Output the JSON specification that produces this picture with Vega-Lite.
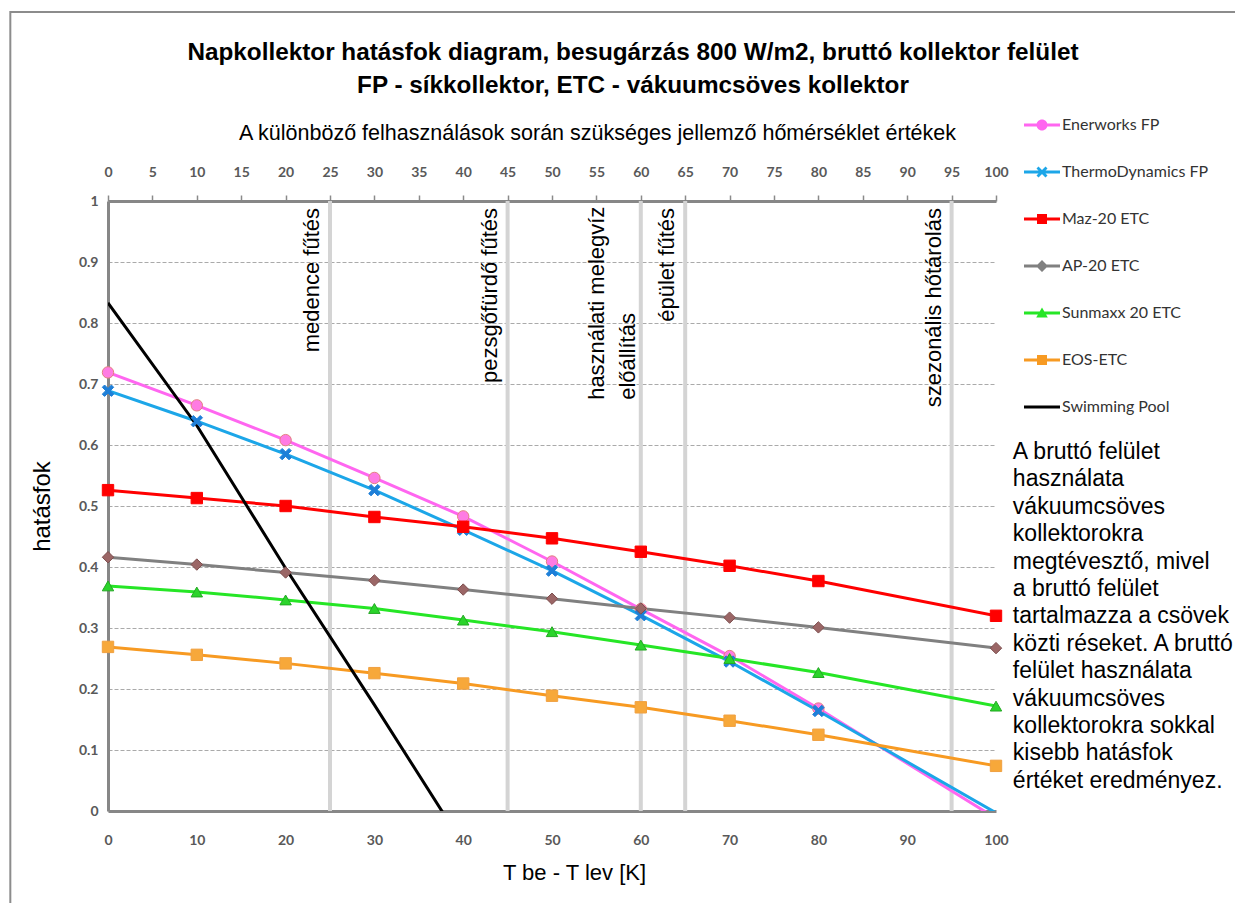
{
  "$schema": "https://vega.github.io/schema/vega-lite/v6.json",
  "width": 888,
  "height": 610,
  "autosize": {"type": "none"},
  "padding": {"left": 108, "top": 201, "right": 239, "bottom": 92},
  "background": "white",
  "title": {
    "text": ["Napkollektor hatásfok diagram, besugárzás 800 W/m2, bruttó kollektor felület", "FP - síkkollektor, ETC - vákuumcsöves kollektor"],
    "font": "Liberation Sans",
    "fontSize": 24.3,
    "fontWeight": "bold",
    "color": "#000000",
    "anchor": "middle",
    "frame": "group",
    "dx": 81,
    "dy": 97,
    "lineHeight": 33,
    "offset": 10
  },
  "config": {
    "view": {"stroke": null},
    "axis": {
      "domainColor": "#878787",
      "domainWidth": 3,
      "grid": false,
      "labelFont": "Lato",
      "labelFontWeight": "bold",
      "labelColor": "#595959",
      "labelFontSize": 13,
      "labelFlush": false,
      "labelOverlap": false,
      "labelBound": false,
      "titleFont": "Liberation Sans",
      "titleFontWeight": "normal",
      "titleFontSize": 18,
      "titleColor": "#000000"
    }
  },
  "data": {
    "values": [
      {"series": "Enerworks FP", "x": 0, "y": 0.719},
      {"series": "Enerworks FP", "x": 10, "y": 0.665},
      {"series": "Enerworks FP", "x": 20, "y": 0.608},
      {"series": "Enerworks FP", "x": 30, "y": 0.546},
      {"series": "Enerworks FP", "x": 40, "y": 0.483},
      {"series": "Enerworks FP", "x": 50, "y": 0.409},
      {"series": "Enerworks FP", "x": 60, "y": 0.331},
      {"series": "Enerworks FP", "x": 70, "y": 0.254},
      {"series": "Enerworks FP", "x": 80, "y": 0.168},
      {"series": "Enerworks FP", "x": 100, "y": -0.012},
      {"series": "ThermoDynamics FP", "x": 0, "y": 0.689},
      {"series": "ThermoDynamics FP", "x": 10, "y": 0.639},
      {"series": "ThermoDynamics FP", "x": 20, "y": 0.585},
      {"series": "ThermoDynamics FP", "x": 30, "y": 0.526},
      {"series": "ThermoDynamics FP", "x": 40, "y": 0.461},
      {"series": "ThermoDynamics FP", "x": 50, "y": 0.394},
      {"series": "ThermoDynamics FP", "x": 60, "y": 0.321},
      {"series": "ThermoDynamics FP", "x": 70, "y": 0.245},
      {"series": "ThermoDynamics FP", "x": 80, "y": 0.164},
      {"series": "ThermoDynamics FP", "x": 100, "y": -0.003},
      {"series": "Maz-20 ETC", "x": 0, "y": 0.526},
      {"series": "Maz-20 ETC", "x": 10, "y": 0.513},
      {"series": "Maz-20 ETC", "x": 20, "y": 0.5},
      {"series": "Maz-20 ETC", "x": 30, "y": 0.482},
      {"series": "Maz-20 ETC", "x": 40, "y": 0.466},
      {"series": "Maz-20 ETC", "x": 50, "y": 0.447},
      {"series": "Maz-20 ETC", "x": 60, "y": 0.425},
      {"series": "Maz-20 ETC", "x": 70, "y": 0.402},
      {"series": "Maz-20 ETC", "x": 80, "y": 0.377},
      {"series": "Maz-20 ETC", "x": 100, "y": 0.32},
      {"series": "AP-20 ETC", "x": 0, "y": 0.416},
      {"series": "AP-20 ETC", "x": 10, "y": 0.404},
      {"series": "AP-20 ETC", "x": 20, "y": 0.391},
      {"series": "AP-20 ETC", "x": 30, "y": 0.378},
      {"series": "AP-20 ETC", "x": 40, "y": 0.363},
      {"series": "AP-20 ETC", "x": 50, "y": 0.348},
      {"series": "AP-20 ETC", "x": 60, "y": 0.332},
      {"series": "AP-20 ETC", "x": 70, "y": 0.317},
      {"series": "AP-20 ETC", "x": 80, "y": 0.301},
      {"series": "AP-20 ETC", "x": 100, "y": 0.267},
      {"series": "Sunmaxx 20 ETC", "x": 0, "y": 0.369},
      {"series": "Sunmaxx 20 ETC", "x": 10, "y": 0.359},
      {"series": "Sunmaxx 20 ETC", "x": 20, "y": 0.346},
      {"series": "Sunmaxx 20 ETC", "x": 30, "y": 0.332},
      {"series": "Sunmaxx 20 ETC", "x": 40, "y": 0.313},
      {"series": "Sunmaxx 20 ETC", "x": 50, "y": 0.294},
      {"series": "Sunmaxx 20 ETC", "x": 60, "y": 0.272},
      {"series": "Sunmaxx 20 ETC", "x": 70, "y": 0.25},
      {"series": "Sunmaxx 20 ETC", "x": 80, "y": 0.227},
      {"series": "Sunmaxx 20 ETC", "x": 100, "y": 0.172},
      {"series": "EOS-ETC", "x": 0, "y": 0.269},
      {"series": "EOS-ETC", "x": 10, "y": 0.256},
      {"series": "EOS-ETC", "x": 20, "y": 0.242},
      {"series": "EOS-ETC", "x": 30, "y": 0.226},
      {"series": "EOS-ETC", "x": 40, "y": 0.209},
      {"series": "EOS-ETC", "x": 50, "y": 0.189},
      {"series": "EOS-ETC", "x": 60, "y": 0.17},
      {"series": "EOS-ETC", "x": 70, "y": 0.148},
      {"series": "EOS-ETC", "x": 80, "y": 0.125},
      {"series": "EOS-ETC", "x": 100, "y": 0.074},
      {"series": "Swimming Pool", "x": 0, "y": 0.833},
      {"series": "Swimming Pool", "x": 10, "y": 0.632},
      {"series": "Swimming Pool", "x": 20, "y": 0.398},
      {"series": "Swimming Pool", "x": 30, "y": 0.174},
      {"series": "Swimming Pool", "x": 40, "y": -0.055}
    ]
  },
  "layer": [
    {
      "data": {"values": [{"frame": 1}]},
      "mark": {"type": "rect", "fill": null, "stroke": "#8C8C8C", "strokeWidth": 2, "clip": false},
      "encoding": {
        "x": {"datum": -11.0, "type": "quantitative", "axis": null, "scale": {"domain": [0, 100], "nice": false}},
        "x2": {"datum": 150},
        "y": {"datum": 1.31, "type": "quantitative", "axis": null, "scale": {"domain": [0, 1], "nice": false}},
        "y2": {"datum": -0.5}
      }
    },
    {
      "data": {"values": [{"t": 25}, {"t": 45}, {"t": 60}, {"t": 65}, {"t": 95}]},
      "mark": {"type": "rule", "color": "#D4D4D4", "strokeWidth": 4},
      "encoding": {
        "x": {
          "field": "t",
          "type": "quantitative",
          "scale": {"domain": [0, 100], "nice": false},
          "axis": {
            "orient": "top",
            "values": [0, 5, 10, 15, 20, 25, 30, 35, 40, 45, 50, 55, 60, 65, 70, 75, 80, 85, 90, 95, 100],
            "ticks": true,
            "tickSize": 6,
            "tickColor": "#8A8A8A",
            "tickWidth": 1.5,
            "labelPadding": 16,
            "labelFontSize": 14,
            "title": "A különböző felhasználások során szükséges jellemző hőmérséklet értékek",
            "titleFontSize": 21.5,
            "titleX": 489,
            "titleY": -68,
            "titleAlign": "center",
            "titleBaseline": "middle",
            "titleAngle": 0
          }
        }
      }
    },
    {
      "mark": {"type": "line", "strokeWidth": 3, "clip": true},
      "encoding": {
        "x": {
          "field": "x",
          "type": "quantitative",
          "scale": {"domain": [0, 100], "nice": false},
          "axis": {
            "orient": "bottom",
            "values": [0, 10, 20, 30, 40, 50, 60, 70, 80, 90, 100],
            "ticks": false,
            "tickSize": 0,
            "labelPadding": 22,
            "labelFontSize": 14,
            "title": "T be - T lev [K]",
            "titleFontSize": 22,
            "titleX": 466,
            "titleY": 61,
            "titleAlign": "center",
            "titleBaseline": "middle"
          }
        },
        "y": {
          "field": "y",
          "type": "quantitative",
          "scale": {"domain": [0, 1], "nice": false},
          "axis": {
            "orient": "left",
            "values": [0, 0.1, 0.2, 0.3, 0.4, 0.5, 0.6, 0.7, 0.8, 0.9, 1],
            "format": "~g",
            "grid": true,
            "gridDash": [4, 2],
            "gridColor": "#AAAAAA",
            "gridWidth": 1,
            "ticks": false,
            "tickSize": 0,
            "labelPadding": 10,
            "labelFontSize": 14,
            "title": "hatásfok",
            "titleFontSize": 24,
            "titleX": -66,
            "titleY": 305,
            "titleAngle": 270,
            "titleAlign": "center",
            "titleBaseline": "middle"
          }
        },
        "color": {
          "field": "series",
          "type": "nominal",
          "scale": {
            "domain": ["Enerworks FP", "ThermoDynamics FP", "Maz-20 ETC", "AP-20 ETC", "Sunmaxx 20 ETC", "EOS-ETC", "Swimming Pool"],
            "range": ["#FF66F0", "#1CA6E8", "#FF0000", "#808080", "#26E626", "#F79A22", "#000000"]
          },
          "legend": {
            "orient": "none",
            "legendX": 916,
            "legendY": -86,
            "title": null,
            "padding": 0,
            "symbolSize": 400,
            "symbolOffset": 8,
            "labelOffset": 10,
            "rowPadding": 29,
            "labelFont": "Lato",
            "labelFontSize": 16,
            "labelColor": "#333333",
            "labelLimit": 300,
            "encode": {
              "symbols": {
                "update": {
                  "shape": {"signal": "datum.value === 'Enerworks FP' ? 'M-1.8,-0.15H1.8V0.15H-1.8ZM0.55,0A0.55,0.55,0,1,1,-0.55,0A0.55,0.55,0,1,1,0.55,0Z' : datum.value === 'ThermoDynamics FP' ? 'M-1.8,-0.15H1.8V0.15H-1.8ZM-0.55,-0.35L-0.35,-0.55L0.55,0.35L0.35,0.55ZM0.35,-0.55L0.55,-0.35L-0.35,0.55L-0.55,0.35Z' : datum.value === 'AP-20 ETC' ? 'M-1.8,-0.15H1.8V0.15H-1.8ZM0,-0.6L0.6,0L0,0.6L-0.6,0Z' : datum.value === 'Sunmaxx 20 ETC' ? 'M-1.8,-0.15H1.8V0.15H-1.8ZM0,-0.55L0.58,0.45L-0.58,0.45Z' : datum.value === 'Swimming Pool' ? 'M-1.8,-0.15H1.8V0.15H-1.8Z' : 'M-1.8,-0.15H1.8V0.15H-1.8ZM-0.5,-0.5H0.5V0.5H-0.5Z'"},
                  "fill": {"signal": "scale('color', datum.value)"},
                  "strokeWidth": {"value": 0},
                  "opacity": {"value": 1}
                }
              }
            }
          }
        }
      }
    },
    {
      "transform": [{"filter": "datum.series !== 'Swimming Pool' && datum.y >= 0"}],
      "mark": {"type": "point", "filled": true, "size": 130, "strokeWidth": 1, "opacity": 1},
      "encoding": {
        "x": {"field": "x", "type": "quantitative", "axis": null, "scale": {"domain": [0, 100], "nice": false}},
        "y": {"field": "y", "type": "quantitative", "axis": null, "scale": {"domain": [0, 1], "nice": false}},
        "fill": {
          "field": "series",
          "type": "nominal",
          "legend": null,
          "scale": {
            "domain": ["Swimming Pool", "EOS-ETC", "Sunmaxx 20 ETC", "AP-20 ETC", "Maz-20 ETC", "ThermoDynamics FP", "Enerworks FP"],
            "range": ["#000000", "#F7A83A", "#2BD42B", "#9B6666", "#FF0000", "#1E7FD8", "#FF7BE3"]
          }
        },
        "stroke": {
          "field": "series",
          "type": "nominal",
          "legend": null,
          "scale": {
            "domain": ["Swimming Pool", "EOS-ETC", "Sunmaxx 20 ETC", "AP-20 ETC", "Maz-20 ETC", "ThermoDynamics FP", "Enerworks FP"],
            "range": ["#000000", "#F0A040", "#23A823", "#7D4E4E", "#FF0000", "#1E7FD8", "#E38080"]
          }
        },
        "shape": {
          "field": "series",
          "type": "nominal",
          "legend": null,
          "scale": {
            "domain": ["Swimming Pool", "EOS-ETC", "Sunmaxx 20 ETC", "AP-20 ETC", "Maz-20 ETC", "ThermoDynamics FP", "Enerworks FP"],
            "range": ["circle", "square", "triangle-up", "diamond", "square", "M-1,-0.6L-0.6,-1L1,0.6L0.6,1ZM0.6,-1L1,-0.6L-0.6,1L-1,0.6Z", "circle"]
          }
        }
      }
    },
    {
      "data": {"values": [{"label": "medence fűtés", "t": 25}, {"label": "pezsgőfürdő fűtés", "t": 45}, {"label": "épület fűtés", "t": 65}, {"label": "szezonális hőtárolás", "t": 95}]},
      "mark": {"type": "text", "angle": 270, "align": "right", "baseline": "alphabetic", "dx": -7, "dy": -11, "font": "Liberation Sans", "fontSize": 22, "color": "#000000"},
      "encoding": {
        "x": {"field": "t", "type": "quantitative", "axis": null, "scale": {"domain": [0, 100], "nice": false}},
        "y": {"datum": 1, "type": "quantitative", "axis": null, "scale": {"domain": [0, 1], "nice": false}},
        "text": {"field": "label"}
      }
    },
    {
      "data": {"values": [{"label": ["használati melegvíz", "előállítás"], "t": 60}]},
      "mark": {"type": "text", "angle": 270, "align": "left", "baseline": "alphabetic", "dy": -37, "lineHeight": 31, "font": "Liberation Sans", "fontSize": 22, "color": "#000000"},
      "encoding": {
        "x": {"field": "t", "type": "quantitative", "axis": null, "scale": {"domain": [0, 100], "nice": false}},
        "y": {"datum": 0.674, "type": "quantitative", "axis": null, "scale": {"domain": [0, 1], "nice": false}},
        "text": {"field": "label"}
      }
    },
    {
      "data": {"values": [{"note": ["A bruttó felület", "használata", "vákuumcsöves", "kollektorokra", "megtévesztő, mivel", "a bruttó felület", "tartalmazza a csövek", "közti réseket. A bruttó", "felület használata", "vákuumcsöves", "kollektorokra sokkal", "kisebb hatásfok", "értéket eredményez."]}]},
      "mark": {"type": "text", "align": "left", "baseline": "middle", "lineHeight": 27.4, "font": "Liberation Sans", "fontSize": 23, "color": "#000000", "clip": false},
      "encoding": {
        "x": {"datum": 101.9, "type": "quantitative", "axis": null, "scale": {"domain": [0, 100], "nice": false}},
        "y": {"datum": 0.5885, "type": "quantitative", "axis": null, "scale": {"domain": [0, 1], "nice": false}},
        "text": {"field": "note"}
      }
    }
  ],
  "resolve": {"axis": {"x": "independent", "y": "independent"}}
}
